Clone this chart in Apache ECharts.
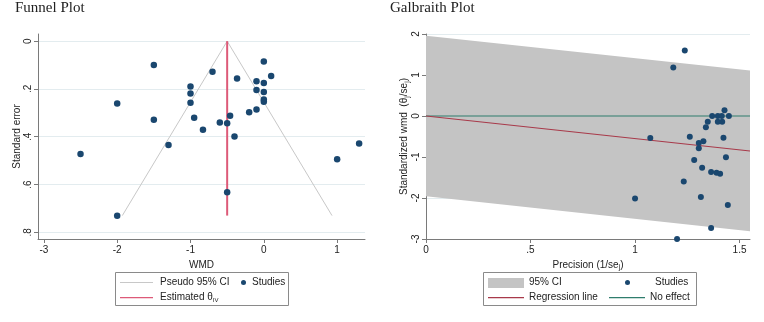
<!DOCTYPE html>
<html><head><meta charset="utf-8">
<script src="https://cdn.jsdelivr.net/npm/echarts@6/dist/echarts.min.js"></script>
<style>html,body{margin:0;padding:0;background:#fff}#c{width:764px;height:322px}</style>
</head><body><div id="c"></div>
<script>
// ---- Funnel plot data ----
const funnelWMD = [-1.5, -2, -1.5, -2.5, -2, -1.3, -1, -1, -1, -0.95, -0.83, -0.7, -0.6, -0.5, -0.46, -0.365, -0.4, -0.5, -0.2, -0.1, -0.1, -0.1, 0, 0, 0, 0, 0, 0.1, 1.0, 1.3];
const funnelSE  = [0.1, 0.261, 0.329, 0.472, 0.731, 0.435, 0.19, 0.219, 0.258, 0.321, 0.371, 0.128, 0.34, 0.344, 0.3125, 0.156, 0.399, 0.632, 0.297, 0.286, 0.168, 0.204, 0.085, 0.175, 0.2125, 0.244, 0.254, 0.146, 0.494, 0.428];
const funnelCIx  = [-1.93, -0.5, 0.93];
const funnelCIse = [0.73, 0, 0.73];
const thetaIVx  = [-0.5, -0.5];
const thetaIVse = [0, 0.73];
const funnelXTicks = [-3, -2, -1, 0, 1];
const funnelYTicks = [0, 0.2, 0.4, 0.6, 0.8];

// ---- Galbraith plot data ----
const galPrecision = [1.238, 1.183, 1.073, 1.0, 1.201, 1.233, 1.262, 1.283, 1.305, 1.305, 1.315, 1.321, 1.327, 1.339, 1.348, 1.369, 1.364, 1.364, 1.396, 1.396, 1.390, 1.407, 1.415, 1.417, 1.428, 1.423, 1.435, 1.444, 1.449];
const galZ         = [1.60, 1.18, -0.537, -2.01, -3.0, -1.60, -0.504, -1.073, -0.659, -0.789, -1.976, -1.26, -0.618, -0.276, -0.138, 0, -1.366, -2.73, 0, -0.138, -1.382, -1.407, 0, -0.138, 0.138, -0.528, -1.008, -2.17, 0];
const galBandX     = [0, 1.55];
const galBandUpper = [1.96, 1.107];
const galBandLower = [-1.96, -2.813];
const galRegY      = [0, -0.853];
const galNoEffectY = [0, 0];
const galXTicks = [0, 0.5, 1, 1.5];
const galYTicks = [-3, -2, -1, 0, 1, 2];

const FONT = 'Liberation Sans, Arial, sans-serif';
const TXT = '#222';
const AX = '#7a7a7a';
const NAVY = '#1a476f';
const PINK = '#dd5a78';
const MAROON = '#a83a4a';
const TEAL = '#2f7d6d';
const CIGRAY = '#c8c8c8';
const BAND = '#c4c4c4';
const fmt = v => v === 0 ? '0' : String(+v.toFixed(2)).replace(/^(-?)0\./, '$1.');

function axisBase(ticks) {
  return {
    axisLine: {onZero: false, lineStyle: {color: AX, width: 1}},
    axisTick: {show: true, length: 4, lineStyle: {color: AX}, customValues: ticks},
    axisLabel: {color: TXT, fontFamily: FONT, fontSize: 10, formatter: fmt, customValues: ticks},
    nameTextStyle: {color: TXT, fontFamily: FONT, fontSize: 10}
  };
}

const chart = echarts.init(document.getElementById('c'), null, {renderer: 'canvas'});
const fx = axisBase(funnelXTicks), fy = axisBase(funnelYTicks), gx = axisBase(galXTicks), gy = axisBase(galYTicks);

function swatch(x, y, w, h, color) {
  return {type: 'rect', shape: {x: x, y: y, width: w, height: h}, style: {fill: color}};
}
function label(x, y, text, rich) {
  const st = {text: text, fontFamily: FONT, fontSize: 10, fill: TXT, verticalAlign: 'middle'};
  if (rich) st.rich = rich;
  return {type: 'text', x: x, y: y, style: st};
}

const option = {
  animation: false,
  backgroundColor: '#fff',
  title: [
    {text: 'Funnel Plot', left: 15, top: 1, padding: 0, textStyle: {fontFamily: 'Liberation Serif, serif', fontWeight: 'normal', fontSize: 15, color: TXT}},
    {text: 'Galbraith Plot', left: 390, top: 1, padding: 0, textStyle: {fontFamily: 'Liberation Serif, serif', fontWeight: 'normal', fontSize: 15, color: TXT}}
  ],
  grid: [
    {left: 38, top: 34, width: 327, height: 205},
    {left: 426, top: 34, width: 324, height: 205}
  ],
  xAxis: [
    Object.assign(fx, {type: 'value', gridIndex: 0, min: -3.08, max: 1.38, splitLine: {show: false},
      name: 'WMD', nameLocation: 'middle', nameGap: 17,
      axisLabel: Object.assign(fx.axisLabel, {margin: 6})}),
    Object.assign(gx, {type: 'value', gridIndex: 1, min: 0, max: 1.55, splitLine: {show: false},
      name: 'Precision (1/se{s|j})', nameLocation: 'middle', nameGap: 17,
      nameTextStyle: Object.assign(gx.nameTextStyle, {rich: {s: {fontSize: 7, fontFamily: FONT, color: TXT, verticalAlign: 'bottom', padding: [5, 0, 0, 0]}}}),
      axisLabel: Object.assign(gx.axisLabel, {margin: 6})})
  ],
  yAxis: [
    Object.assign(fy, {type: 'value', gridIndex: 0, inverse: true, min: -0.03, max: 0.828,
      splitLine: {show: true, lineStyle: {color: '#e3ecef', width: 1}},
      name: 'Standard error', nameLocation: 'middle', nameGap: 16,
      axisLabel: Object.assign(fy.axisLabel, {rotate: 90, margin: 5})}),
    Object.assign(gy, {type: 'value', gridIndex: 1, min: -3, max: 2,
      splitLine: {show: true, lineStyle: {color: '#e3ecef', width: 1}},
      name: 'Standardized wmd  (θ{s|j}/se{s|j})', nameLocation: 'middle', nameGap: 15,
      nameTextStyle: Object.assign(gy.nameTextStyle, {rich: {s: {fontSize: 7, fontFamily: FONT, color: TXT, verticalAlign: 'bottom', padding: [5, 0, 0, 0]}}}),
      axisLabel: Object.assign(gy.axisLabel, {rotate: 90, margin: 5})})
  ],
  series: [
    {type: 'line', xAxisIndex: 0, yAxisIndex: 0, data: funnelCIx.map((x, i) => [x, funnelCIse[i]]),
      symbol: 'none', lineStyle: {color: CIGRAY, width: 1}, z: 2, silent: true},
    {type: 'line', xAxisIndex: 0, yAxisIndex: 0, data: thetaIVx.map((x, i) => [x, thetaIVse[i]]),
      symbol: 'none', lineStyle: {color: PINK, width: 2}, z: 3, silent: true},
    {type: 'scatter', xAxisIndex: 0, yAxisIndex: 0, data: funnelWMD.map((x, i) => [x, funnelSE[i]]),
      symbolSize: 6.5, itemStyle: {color: NAVY, opacity: 1}, z: 4},
    {type: 'custom', xAxisIndex: 1, yAxisIndex: 1, z: 1, silent: true,
      data: galBandX.map((x, i) => [x, galBandUpper[i], galBandLower[i]]),
      renderItem: function (params, api) {
        if (params.dataIndex !== 0) return null;
        const pts = [];
        for (let i = 0; i < galBandX.length; i++) pts.push(api.coord([galBandX[i], galBandUpper[i]]));
        for (let i = galBandX.length - 1; i >= 0; i--) pts.push(api.coord([galBandX[i], galBandLower[i]]));
        return {type: 'polygon', shape: {points: pts}, style: {fill: BAND}};
      }},
    {type: 'line', xAxisIndex: 1, yAxisIndex: 1, data: galBandX.map((x, i) => [x, galNoEffectY[i]]),
      symbol: 'none', lineStyle: {color: TEAL, width: 1.2}, z: 2, silent: true},
    {type: 'line', xAxisIndex: 1, yAxisIndex: 1, data: galBandX.map((x, i) => [x, galRegY[i]]),
      symbol: 'none', lineStyle: {color: MAROON, width: 1.2}, z: 3, silent: true},
    {type: 'scatter', xAxisIndex: 1, yAxisIndex: 1, data: galPrecision.map((x, i) => [x, galZ[i]]),
      symbolSize: 6, itemStyle: {color: NAVY, opacity: 1}, z: 4}
  ],
  graphic: [
    // Funnel legend
    {type: 'rect', shape: {x: 115.5, y: 272.5, width: 173, height: 33}, style: {fill: '#fff', stroke: '#8a8a8a', lineWidth: 1}},
    swatch(120, 282, 33, 1, CIGRAY),
    label(160, 282.5, 'Pseudo 95% CI'),
    {type: 'circle', shape: {cx: 243.5, cy: 282.5, r: 2.5}, style: {fill: NAVY}},
    label(252, 282.5, 'Studies'),
    swatch(120, 297, 33, 1.3, PINK),
    label(160, 297.5, 'Estimated θ{s|IV}', {s: {fontSize: 6, fontFamily: FONT, fill: TXT, verticalAlign: 'bottom', padding: [5, 0, 0, 0]}}),
    // Galbraith legend
    {type: 'rect', shape: {x: 483.5, y: 272.5, width: 213, height: 33}, style: {fill: '#fff', stroke: '#8a8a8a', lineWidth: 1}},
    swatch(488, 278, 36, 10, BAND),
    label(529, 282.5, '95% CI'),
    {type: 'circle', shape: {cx: 627.5, cy: 282.5, r: 2.5}, style: {fill: NAVY}},
    label(655, 282.5, 'Studies'),
    swatch(488, 297, 36, 1.2, MAROON),
    label(529, 297.5, 'Regression line'),
    swatch(609, 297, 36, 1.2, TEAL),
    label(650, 297.5, 'No effect')
  ]
};
chart.setOption(option);
</script>
</body></html>
